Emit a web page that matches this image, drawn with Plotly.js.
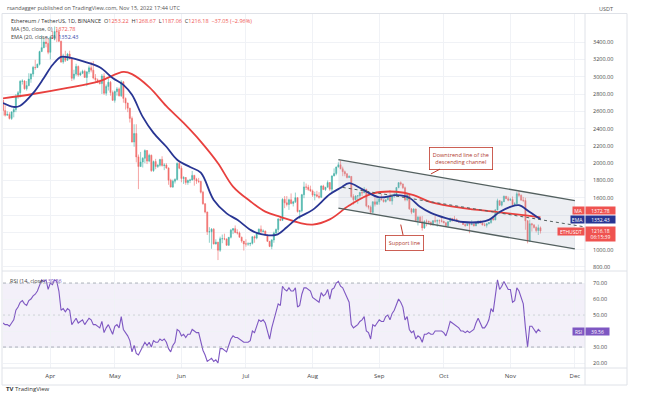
<!DOCTYPE html>
<html><head><meta charset="utf-8">
<script src="https://cdn.plot.ly/plotly-3.0.1.min.js"></script>
<style>html,body{margin:0;padding:0;background:#fff;}#chart{width:660px;height:396px;}</style>
</head><body><div id="chart"></div>
<script>
// ---------- DATA ----------
const startDate = [2022, 2, 10]; // 10 Mar 2022, daily candles
const firstOpen = 2727;
const closes = [
2608,2555,2564,2517,2592,2620,2773,2815,2946,2950,2860,2897,2972,3031,3108,3106,3145,3290,3336,3401,3384,3282,
3454,3444,3522,3521,3411,3171,3233,3190,3262,3209,2981,3030,3118,3019,3040,3062,2991,3056,3103,3076,2985,2964,2936,2921,3008,2809,2888,2936,2816,2727,
2828,2859,2780,2940,2749,2695,2636,2518,2245,2343,2073,1961,2014,2057,2146,2024,2091,1914,2019,1961,1976,2043,1973,1979,1945,1802,1724,1792,1812,1997,1942,
1823,1834,1776,1801,1806,1859,1814,1794,1789,1665,1530,1435,1207,1208,1236,1067,1087,994,1127,1127,1124,1051,1143,1226,1243,1199,1193,1144,1099,1067,
1066,1067,1074,1150,1134,1186,1237,1211,1216,1169,1097,1038,1113,1192,1233,1354,1339,1582,1542,1523,1577,1535,1553,1601,1440,1450,1636,1726,1722,1697,1678,
1631,1635,1619,1606,1736,1695,1722,1776,1700,1852,1880,1956,1982,1935,1902,1877,1834,1847,1614,1578,1620,1623,1661,1656,1697,1507,1491,1432,1553,1525,1553,
1587,1577,1556,1577,1617,1562,1630,1635,1718,1775,1759,1716,1577,1638,1472,1432,1470,1336,1376,1325,1252,1329,1328,1317,1294,1335,1330,1336,1335,1328,
1311,1276,1323,1362,1352,1352,1331,1321,1320,1291,1279,1294,1288,1297,1275,1306,1331,1310,1286,1282,1299,1314,1364,1344,1460,1567,1515,1555,1618,1590,1572,
1580,1520,1530,1646,1628,1572,1568,1334,1100,1300,1287,1256,1221,1253.22,1216.18];
const highs = [
2730,2670,2600,2590,2600,2650,2800,2835,2960,2970,2960,2950,3040,3040,3125,3195,3150,3300,3480,3445,3440,3445,
3475,3530,3580,3550,3555,3415,3265,3300,3275,3300,3210,3080,3150,3130,3060,3080,3080,3060,3130,3170,3180,3030,2980,2965,3030,3040,2910,2980,2950,2840,
2840,2880,2875,2960,2950,2760,2700,2640,2540,2450,2450,2100,2130,2070,2160,2150,2110,2100,2030,2050,1990,2050,2080,2000,2000,1950,1820,1810,1825,2010,2020,
1970,1850,1840,1810,1820,1910,1865,1830,1830,1795,1680,1540,1440,1260,1250,1250,1120,1090,1150,1175,1185,1130,1145,1240,1250,1280,1235,1210,1150,1100,
1120,1085,1080,1155,1165,1195,1245,1280,1235,1220,1170,1100,1120,1210,1245,1365,1380,1595,1620,1620,1590,1650,1565,1660,1605,1460,1645,1785,1765,1750,1740,
1695,1670,1680,1665,1745,1750,1725,1800,1780,1860,1940,1960,2010,2030,1960,1915,1885,1860,1850,1640,1630,1630,1670,1690,1725,1705,1515,1510,1560,1610,1610,
1595,1645,1580,1580,1620,1690,1635,1660,1725,1780,1790,1765,1730,1640,1645,1480,1480,1475,1390,1390,1390,1340,1350,1335,1325,1340,1390,1350,1350,1375,
1333,1315,1330,1370,1365,1390,1360,1335,1330,1330,1295,1300,1310,1340,1300,1310,1335,1340,1315,1310,1305,1315,1365,1375,1470,1590,1575,1565,1625,1620,1615,
1600,1615,1550,1670,1680,1640,1610,1600,1340,1345,1310,1290,1270,1290,1268.67];
const lows = [
2550,2540,2550,2505,2500,2530,2590,2745,2760,2910,2850,2840,2890,2930,3000,3080,3100,3130,3290,3330,3340,3260,
3200,3440,3420,3400,3400,3160,3150,3170,3185,3200,2950,2960,3010,3000,3010,3030,2990,2890,3030,3050,2970,2940,2925,2910,2800,2790,2780,2840,2780,2720,
2700,2780,2770,2765,2700,2620,2590,2470,2240,2190,2010,1700,1960,1950,2000,1990,2010,1900,1900,1930,1945,1960,1960,1920,1935,1750,1720,1715,1765,1800,1930,
1780,1760,1750,1750,1770,1800,1740,1760,1770,1650,1520,1420,1170,1080,1010,1060,1060,880,975,1075,1110,1045,1045,1130,1180,1190,1175,1140,1080,990,
1035,1045,1040,1060,1080,1120,1170,1190,1200,1160,1090,1030,1005,1080,1180,1200,1330,1335,1480,1500,1460,1525,1500,1540,1430,1355,1430,1595,1690,1680,1670,
1610,1570,1605,1590,1600,1690,1680,1720,1680,1660,1850,1860,1950,1930,1850,1850,1825,1835,1600,1520,1570,1530,1595,1620,1655,1490,1465,1420,1420,1500,1520,
1520,1570,1545,1545,1570,1560,1520,1600,1630,1710,1740,1700,1560,1560,1460,1410,1430,1330,1280,1310,1220,1240,1270,1305,1275,1275,1310,1265,1300,1315,
1305,1270,1260,1320,1325,1345,1320,1310,1315,1285,1265,1275,1190,1285,1270,1275,1295,1300,1280,1270,1255,1295,1300,1335,1340,1455,1505,1500,1550,1585,1560,
1565,1510,1505,1530,1610,1570,1550,1230,1073,1090,1210,1245,1200,1170,1187.06];
const rsi = [
45,44,44,43,45,47,53,55,58,59,57,56,59,60,62,63,65,69,72,71,72,66,
70,69,72,71,65,53,54,52,54,53,44,46,48,45,46,47,44,46,48,47,44,44,43,42,46,39,42,44,41,38,
43,44,42,49,41,39,37,34,27,31,26,25,28,30,33,31,33,30,34,33,33,35,34,35,33,29,27,31,33,41,40,
37,38,36,38,38,41,40,39,39,34,28,25,21,22,23,21,22,20,29,29,28,27,31,35,37,36,36,35,34,33,
33,33,34,40,39,43,47,46,47,45,40,35,42,47,51,57,56,68,66,65,67,65,65,67,55,56,63,67,67,66,65,
61,60,59,58,64,62,63,66,60,66,67,70,71,68,67,64,60,58,44,42,43,44,46,47,49,40,39,35,44,43,45,
47,46,46,49,50,47,51,53,57,60,58,55,47,49,41,39,40,35,37,36,33,38,38,39,38,38,40,40,40,40,
39,37,41,46,45,44,43,42,40,40,39,40,39,40,41,45,48,45,42,42,44,47,54,52,62,72,66,68,71,68,66,
66,58,59,67,65,61,57,42,30,43,43,41,39,41,39.56];
const maDates = ['2022-03-10','2022-03-24','2022-04-09','2022-04-24','2022-05-05','2022-05-09','2022-05-17','2022-05-25','2022-06-02','2022-06-10','2022-06-18','2022-06-25','2022-07-03','2022-07-10','2022-07-17','2022-07-26','2022-08-01','2022-08-09','2022-08-18','2022-08-29','2022-09-09','2022-09-17','2022-09-25','2022-10-10','2022-10-26','2022-11-10','2022-11-15'];
const ma50 = [2750,2800,2870,2950,3055,3030,2880,2660,2465,2250,2000,1730,1560,1440,1380,1310,1290,1350,1510,1650,1670,1630,1550,1480,1435,1390,1372.78];
const emaDates = ['2022-03-10','2022-03-15','2022-03-18','2022-03-24','2022-03-29','2022-04-02','2022-04-06','2022-04-10','2022-04-16','2022-04-24','2022-04-30','2022-05-05','2022-05-09','2022-05-14','2022-05-19','2022-05-25','2022-05-30','2022-06-05','2022-06-10','2022-06-16','2022-06-22','2022-06-27','2022-07-03','2022-07-06','2022-07-15','2022-07-20','2022-07-25','2022-08-01','2022-08-09','2022-08-14','2022-08-18','2022-08-24','2022-09-01','2022-09-09','2022-09-15','2022-09-20','2022-09-25','2022-10-02','2022-10-10','2022-10-18','2022-10-22','2022-10-27','2022-11-01','2022-11-05','2022-11-10','2022-11-15'];
const ema20 = [2695,2650,2665,2810,2985,3135,3230,3220,3180,3110,2985,2905,2790,2535,2350,2190,2040,1955,1890,1575,1420,1345,1230,1195,1170,1260,1365,1460,1640,1715,1770,1700,1605,1630,1600,1495,1425,1365,1320,1320,1345,1435,1495,1515,1435,1352.43];
const channelDates = ['2022-08-13','2022-12-01'];
const channelUpper = [2040, 1568];
const channelLower = [1480, 1008];
const midDates = ['2022-08-15','2022-12-06'];
const midLine = [1720, 1262];
const calloutDown = {date:'2022-09-25', price:1875};
const calloutSupport = {date:'2022-09-11', price:1290};
const priceTicks = [800,1000,1200,1400,1600,1800,2000,2200,2400,2600,2800,3000,3200,3400];
const priceTicksCovered = [1200,1400];   // labels hidden behind the price tags
const rsiTicks = [20,30,40,50,60,70];
const rsiTicksCovered = [40];
const last = {ma:'1372.78', ema:'1352.43', close:'1216.18', timer:'06:15:39', rsi:'39.56'};

// ---------- BUILD ----------
const dates = closes.map((_, i) => new Date(Date.UTC(startDate[0], startDate[1], startDate[2] + i)).toISOString().slice(0, 10));
const opens = closes.map((c, i) => i === 0 ? firstOpen : closes[i - 1]);

const UP = '#26a69a', DN = '#ef5350', MAC = '#e8403e', EMAC = '#283593', RSIC = '#7e57c2';
const L = 3, R = 585, T = 14, B = 368;
const px = x => (x - L) / (R - L);
const py = y => (B - y) / (B - T);

const traces = [
  {type:'scatter', x:[channelDates[0],channelDates[1],channelDates[1],channelDates[0],channelDates[0]],
   y:[channelUpper[0],channelUpper[1],channelLower[1],channelLower[0],channelUpper[0]],
   fill:'toself', fillcolor:'rgba(175,183,200,0.22)', line:{width:0}, mode:'lines', hoverinfo:'skip', xaxis:'x', yaxis:'y'},
  {type:'candlestick', x:dates, open:opens, high:highs, low:lows, close:closes, xaxis:'x', yaxis:'y',
   increasing:{line:{color:UP, width:0.6}, fillcolor:UP}, decreasing:{line:{color:DN, width:0.6}, fillcolor:DN},
   whiskerwidth:0, hoverinfo:'skip', opacity:0.85},
  {type:'scatter', mode:'lines', x:maDates, y:ma50, line:{color:MAC, width:1.8, shape:'spline', smoothing:1}, xaxis:'x', yaxis:'y', hoverinfo:'skip'},
  {type:'scatter', mode:'lines', x:emaDates, y:ema20, line:{color:EMAC, width:1.8, shape:'spline', smoothing:1}, xaxis:'x', yaxis:'y', hoverinfo:'skip'},
  {type:'scatter', mode:'lines', x:channelDates, y:channelUpper, line:{color:'#53605f', width:1.3}, xaxis:'x', yaxis:'y', hoverinfo:'skip'},
  {type:'scatter', mode:'lines', x:channelDates, y:channelLower, line:{color:'#53605f', width:1.3}, xaxis:'x', yaxis:'y', hoverinfo:'skip'},
  {type:'scatter', mode:'lines', x:midDates, y:midLine, line:{color:'#53605f', width:1, dash:'3px,3px'}, xaxis:'x', yaxis:'y', hoverinfo:'skip'},
  {type:'scatter', mode:'lines', x:dates, y:rsi, line:{color:RSIC, width:1.1}, xaxis:'x', yaxis:'y2', hoverinfo:'skip'}
];

const FONT = 'Open Sans, Roboto, sans-serif';
const ann = [];
function txt(text, x, y, opts) {
  ann.push(Object.assign({xref:'paper', yref:'paper', x:px(x), y:py(y), text:text, showarrow:false,
    xanchor:'left', yanchor:'middle', font:{family:FONT, size:5.5, color:'#444'}}, opts || {}));
}
const red = s => '<span style="color:#ef5350">' + s + '</span>';
txt('rsandagger published on TradingView.com, Nov 15, 2022 17:44 UTC', 5, 8, {font:{family:FONT, size:5.5, color:'#555'}});
txt('Ethereum / TetherUS, 1D, BINANCE  O' + red('1253.22') + '  H' + red('1268.67') + '  L' + red('1187.06') + '  C' + red('1216.18') + '  ' + red('−37.05 (−2.96%)'), 9, 21, {font:{family:FONT, size:5.5, color:'#333'}});
txt('MA (50, close, 0)  ' + red(last.ma), 9, 29.5);
txt('EMA (20, close, 0)  <span style="color:#3949ab">' + last.ema + '</span>', 9, 37.5);
txt('RSI (14, close)  <span style="color:' + RSIC + '">' + last.rsi + '</span>', 8, 281);
txt('<b>TV</b> TradingView', 4, 389, {font:{family:FONT, size:6, color:'#333'}});
txt('USDT', 597, 9, {font:{family:FONT, size:5.5, color:'#555'}});

function chip(text, y, bg, side, w) {
  ann.push({xref:'paper', yref:'paper', x:px(R), y:py(y), text:text, showarrow:false,
    xanchor:side, yanchor:'middle', bgcolor:bg, borderpad:0.5, width:w, align:'center',
    font:{family:FONT, size:5, color:'#fff'}});
}
chip('MA', 211, DN, 'right', 10);
chip(last.ma, 211, DN, 'left', 28);
chip('EMA', 219.5, EMAC, 'right', 12);
chip(last.ema, 219.5, EMAC, 'left', 28);
chip('ETHUSDT', 231, DN, 'right', 25);
chip(last.close + '<br>' + last.timer, 233.5, DN, 'left', 28);
chip('RSI', 331.5, RSIC, 'right', 10);
chip(last.rsi, 331.5, RSIC, 'left', 22);

// callouts
ann.push({xref:'x', yref:'y', x:calloutDown.date, y:calloutDown.price, ax:30, ay:-16,
  text:'Downtrend line of the<br>descending channel', showarrow:true, arrowhead:0, arrowwidth:1, arrowcolor:'#c0392b',
  bordercolor:'#c0392b', borderwidth:0.8, borderpad:3, bgcolor:'#fff',
  font:{family:FONT, size:5.5, color:'#b03a2e'}});
ann.push({xref:'x', yref:'y', x:calloutSupport.date, y:calloutSupport.price, ax:4, ay:18,
  text:'Support line', showarrow:true, arrowhead:0, arrowwidth:1, arrowcolor:'#c0392b',
  bordercolor:'#c0392b', borderwidth:0.8, borderpad:3, bgcolor:'#fff',
  font:{family:FONT, size:5.5, color:'#b03a2e'}});

const BORDER = '#dfe2e8';
const shapes = [
  {type:'rect', xref:'paper', yref:'y2', x0:0, x1:1, y0:30, y1:70, fillcolor:'rgba(126,87,194,0.09)', line:{width:0}, layer:'below'},
  {type:'line', xref:'paper', yref:'y2', x0:0, x1:1, y0:70, y1:70, line:{color:'#9aa0ab', width:0.8, dash:'3px,3px'}},
  {type:'line', xref:'paper', yref:'y2', x0:0, x1:1, y0:50, y1:50, line:{color:'#b8bcc4', width:0.6, dash:'2px,3px'}},
  {type:'line', xref:'paper', yref:'y2', x0:0, x1:1, y0:30, y1:30, line:{color:'#9aa0ab', width:0.8, dash:'3px,3px'}},
  {type:'line', xref:'paper', yref:'paper', x0:px(2), x1:px(627), y0:py(271), y1:py(271), line:{color:BORDER, width:1}},
  {type:'line', xref:'paper', yref:'paper', x0:px(2), x1:px(627), y0:py(368), y1:py(368), line:{color:BORDER, width:1}},
  {type:'line', xref:'paper', yref:'paper', x0:px(2), x1:px(627), y0:py(385), y1:py(385), line:{color:BORDER, width:1}},
  {type:'line', xref:'paper', yref:'paper', x0:px(2), x1:px(627), y0:py(13.5), y1:py(13.5), line:{color:BORDER, width:1}},
  {type:'line', xref:'paper', yref:'paper', x0:px(585), x1:px(585), y0:py(13.5), y1:py(385), line:{color:BORDER, width:1}},
  {type:'line', xref:'paper', yref:'paper', x0:px(627), x1:px(627), y0:py(13.5), y1:py(385), line:{color:BORDER, width:1}},
  {type:'line', xref:'paper', yref:'paper', x0:px(2), x1:px(2), y0:py(13.5), y1:py(385), line:{color:BORDER, width:1}}
];

const GRID = '#f0f2f6';
const layout = {
  width:660, height:396, margin:{l:L, r:660 - R, t:T, b:396 - B},
  paper_bgcolor:'#fff', plot_bgcolor:'#fff', showlegend:false,
  font:{family:FONT, size:6, color:'#444'},
  xaxis:{type:'date', range:['2022-03-10', '2022-12-05 17:00'], anchor:'y2', rangeslider:{visible:false},
    showgrid:true, gridcolor:GRID, gridwidth:1, dtick:'M1', tick0:'2022-01-01', tickformat:'%b', ticks:'',
    showline:false, zeroline:false, tickfont:{family:FONT, size:6, color:'#444'}, ticklabelstandoff:3},
  yaxis:{domain:[py(270), 1], range:[765, 3725], side:'right', anchor:'x', tickvals:priceTicks,
    ticktext:priceTicks.map(v => priceTicksCovered.includes(v) ? '' : v.toFixed(2)), showgrid:true, gridcolor:GRID, ticks:'', zeroline:false,
    showline:false, tickfont:{family:FONT, size:5.5, color:'#444'}, ticklabelstandoff:7},
  yaxis2:{domain:[0, py(272)], range:[16.9, 76.9], side:'right', anchor:'x', tickvals:rsiTicks,
    ticktext:rsiTicks.map(v => rsiTicksCovered.includes(v) ? '' : v.toFixed(2)), showgrid:true, gridcolor:GRID, ticks:'', zeroline:false,
    showline:false, tickfont:{family:FONT, size:5.5, color:'#444'}, ticklabelstandoff:7},
  annotations:ann, shapes:shapes
};
Plotly.newPlot('chart', traces, layout, {staticPlot:true, displayModeBar:false});
</script></body></html>
